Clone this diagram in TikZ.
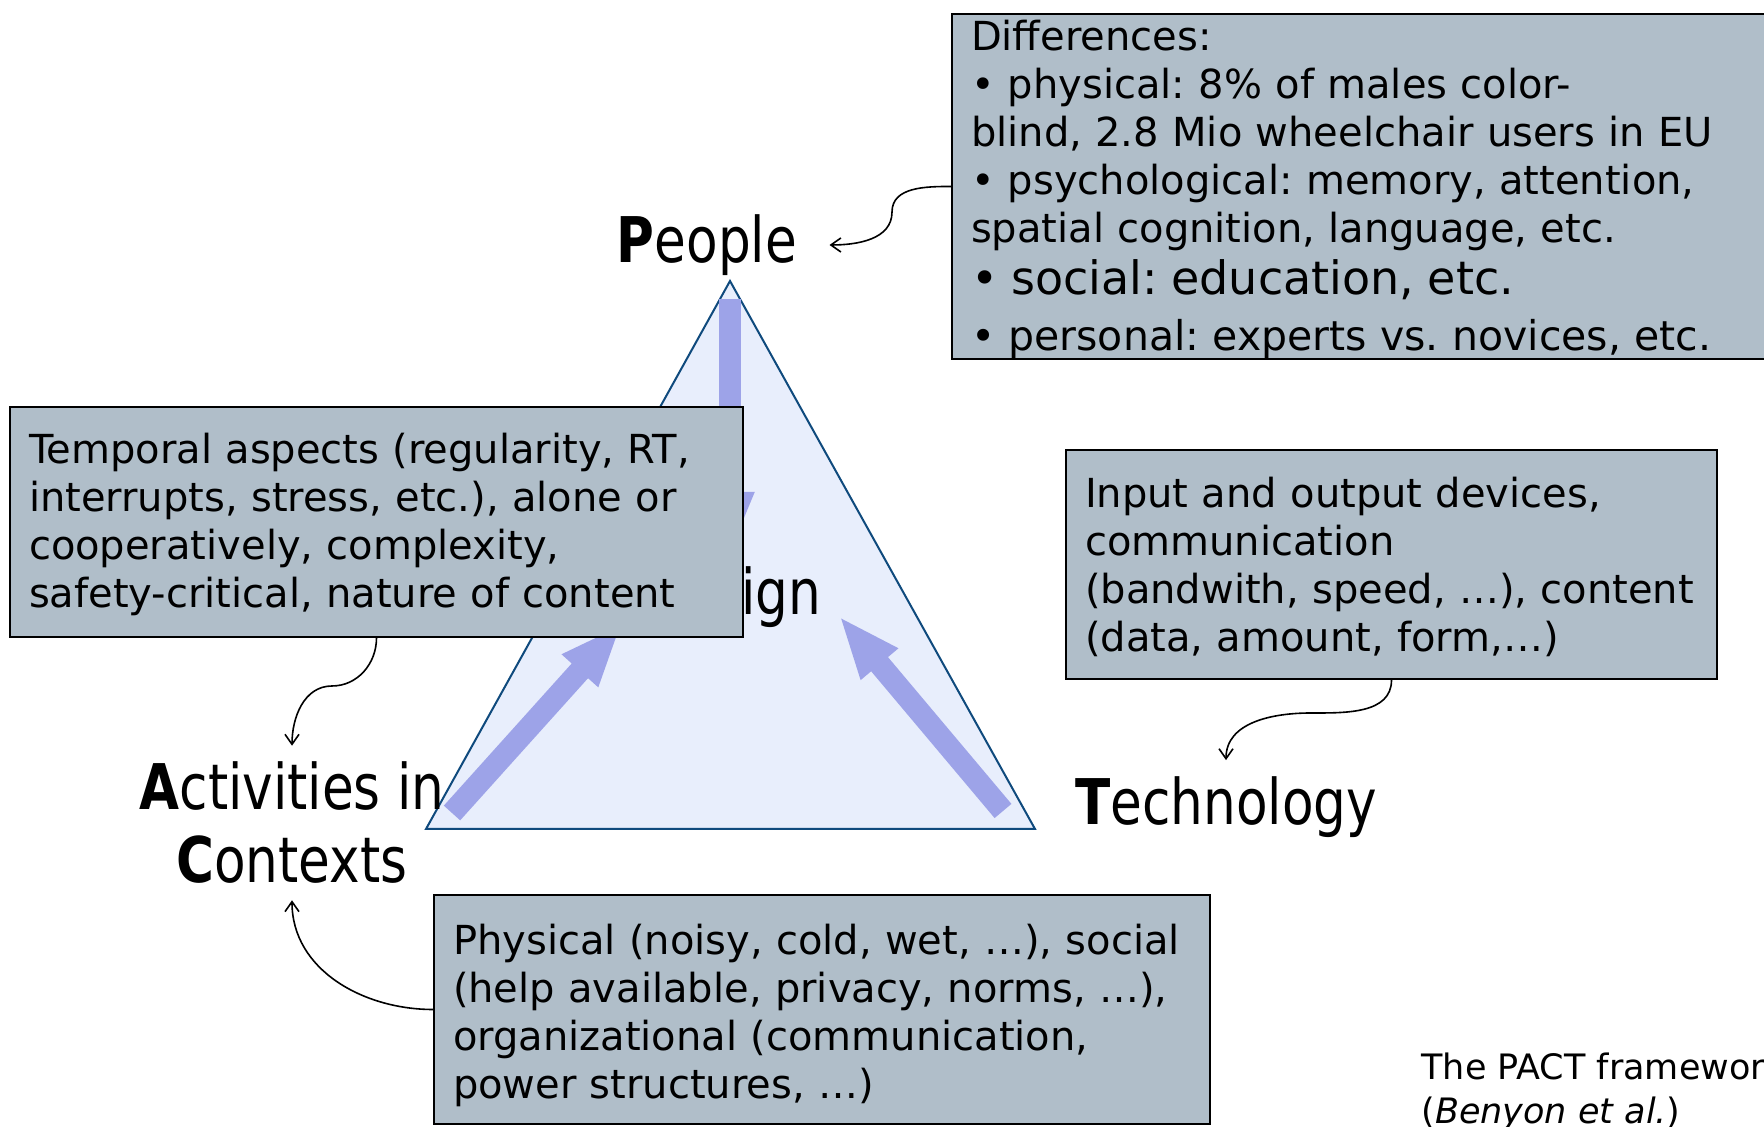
\documentclass[tikz,border=0pt]{standalone}
\usepackage{fontspec}
\setmainfont{DejaVu Sans}
\newfontfamily\pactfont[FakeStretch=0.82]{DejaVu Sans}
\usetikzlibrary{arrows.meta}
\frenchspacing

\definecolor{boxgray}{HTML}{B0BEC9}
\definecolor{trifill}{HTML}{E8EEFC}
\definecolor{tristroke}{HTML}{0F4A7D}
\definecolor{flowblue}{HTML}{9DA3E8}

% first line a bit taller, to sit the text like the slide
\newcommand{\toprule}[1]{\rule{0pt}{#1}}

\begin{document}
\begin{tikzpicture}[x=0.5pt, y=0.5pt]
    % Styles
    \tikzstyle{infobox} = [rectangle, draw=black, line width=1pt, fill=boxgray, anchor=north west, inner xsep=9.5pt, inner ysep=0pt, align=left, font=\fontsize{20pt}{24pt}\selectfont]
    \tikzstyle{pactlabel} = [inner sep=8pt, align=center, font=\pactfont\fontsize{31.5pt}{36.5pt}\selectfont]
    \tikzstyle{flow} = [line width=11pt, draw=flowblue, -{Triangle[width=22pt, length=31.5pt]}]
    \tikzstyle{note} = [-{Straight Barb[length=5pt, width=7pt]}, line width=0.8pt]

    \useasboundingbox (0,0) rectangle (1764,1127);
    \clip (0,0) rectangle (1764,1127);

    % Triangle
    \coordinate (vp) at (730,846);
    \coordinate (va) at (426,298);
    \coordinate (vt) at (1035,298);
    \draw[draw=tristroke, line width=1pt, fill=trifill] (vp) -- (vt) -- (va) -- cycle;

    % Flows towards the design
    \coordinate (ptail) at (730,828);
    \coordinate (ptip) at (730,572);
    \coordinate (atail) at (452,314);
    \coordinate (atip) at (622,503);
    \coordinate (ttail) at (1003,316);
    \coordinate (ttip) at (839,511);
    \draw[flow] (ptail) -- (ptip);
    \draw[flow] (atail) -- (atip);
    \draw[flow] (ttail) -- (ttip);

    \node[pactlabel] (design) at (732,530) {Design};

    % Boxes
    \node[infobox, text width=416pt, minimum height=172.5pt] (pbox) at (951,1114) {\toprule{18pt}Differences:\\
        • physical: 8\% of males color-\\
        blind, 2.8 Mio wheelchair users in EU\\
        • psychological: memory, attention,\\
        spatial cognition, language, etc.\\[2pt]
        {\fontsize{23pt}{26pt}\selectfont • social: education, etc.}\\[4pt]
        {\fontsize{20.5pt}{26pt}\selectfont • personal: experts vs. novices, etc.}};
    \node[infobox, text width=347.5pt, minimum height=115pt] (abox) at (9,721) {\toprule{18pt}Temporal aspects (regularity, RT,\\
        interrupts, stress, etc.), alone or\\
        cooperatively, complexity,\\
        safety-critical, nature of content};
    \node[infobox, text width=306.5pt, minimum height=114.5pt] (tbox) at (1065,678) {\toprule{18pt}Input and output devices,\\
        communication\\
        (bandwith, speed, …), content\\
        (data, amount, form,…)};
    \node[infobox, text width=369pt, minimum height=114.5pt] (cbox) at (433,233) {\toprule{21pt}Physical (noisy, cold, wet, …), social\\
        (help available, privacy, norms, …),\\
        organizational (communication,\\
        power structures, …)};

    % Labels
    \node[pactlabel, inner xsep=16pt] (people) at (707,882) {\textbf{P}eople};
    \node[pactlabel] (activities) at (292,304) {\textbf{A}ctivities in\\\textbf{C}ontexts};
    \node[pactlabel] (technology) at (1226,320) {\textbf{T}echnology};

    % Notes
    \coordinate (pbend) at (892,915);
    \coordinate (abend) at (332,441);
    \coordinate (tbend) at (1311,414);
    \draw[note] (pbox.west) to[out=180, in=90] (pbend) to[out=-90, in=0] (people.east);
    \draw[note] (abox.south) to[out=-90, in=0] (abend) to[out=180, in=90] (activities.north);
    \draw[note] (tbox.south) to[out=-90, in=0] (tbend) to[out=180, in=90] (technology.north);
    \draw[note] (cbox.west) to[out=180, in=-90] (activities.south);

    \node[anchor=west, inner sep=0pt, align=left, font=\fontsize{17.5pt}{22pt}\selectfont] (caption) at (1421,35) {The PACT framework\\(\textit{Benyon et al.})};
\end{tikzpicture}
\end{document}
